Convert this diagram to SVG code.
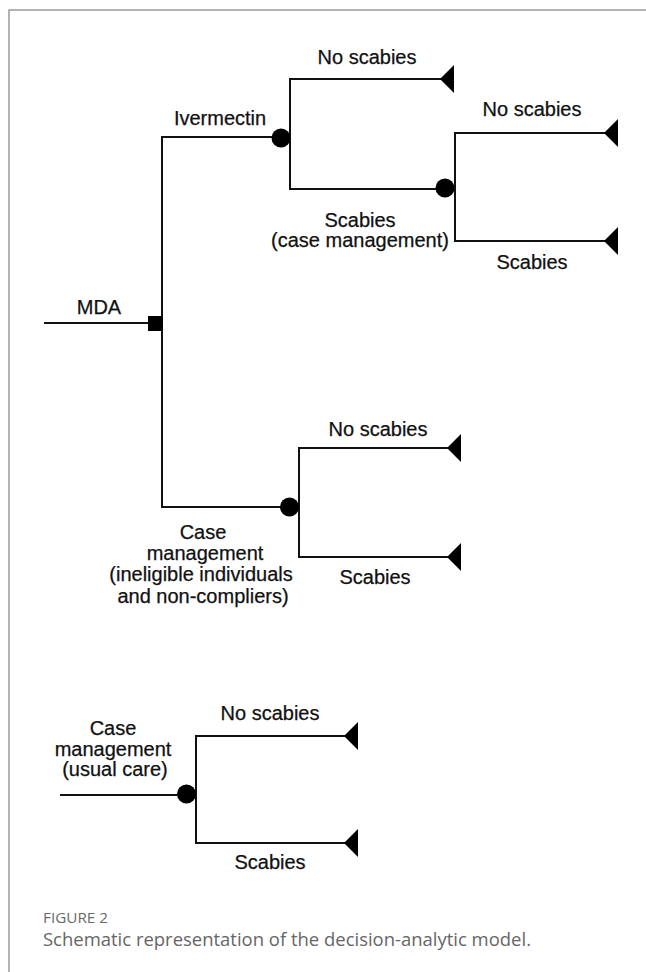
<svg xmlns="http://www.w3.org/2000/svg" width="646" height="972" viewBox="0 0 646 972">
<style>
.ln{fill:none;stroke:#111;stroke-width:2}
.lbl{font-family:"Liberation Sans",Arial,sans-serif;font-size:20px;fill:#111;text-anchor:middle;stroke:#111;stroke-width:0.25}
.chance{fill:#000}
.term{fill:#000}
.cap1{font-family:"Open Sans","Noto Sans",sans-serif;font-size:15px;fill:#6a6a6a}
.cap2{font-family:"Open Sans","Noto Sans",sans-serif;font-size:18px;fill:#666}
</style>
<defs>
<path id="tri" d="M0,0 L14,-14 L14,14 Z"/>
</defs>
<rect width="646" height="972" fill="#fff"/>
<path d="M9,972 V10 H646" fill="none" stroke="#9a9a9a" stroke-width="1.5"/>
<g id="connectors">
<path class="ln" d="M44,323 H155"/>
<path class="ln" d="M162,323 V137 H281"/>
<path class="ln" d="M162,323 V507 H289"/>
<path class="ln" d="M290,138 V79 H442"/>
<path class="ln" d="M290,138 V189 H445"/>
<path class="ln" d="M455,188 V133 H606"/>
<path class="ln" d="M455,188 V241 H606"/>
<path class="ln" d="M299,507 V448 H449"/>
<path class="ln" d="M299,507 V557 H449"/>
<path class="ln" d="M60,795 H186"/>
<path class="ln" d="M196,795 V736 H346"/>
<path class="ln" d="M196,795 V843 H346"/>
</g>
<g id="mda-decision">
<rect x="148" y="316" width="15" height="15" fill="#000"/>
<text class="lbl" x="99" y="314">MDA</text>
</g>
<g id="ivermectin-chance">
<circle class="chance" cx="281" cy="138" r="9.5"/>
<text class="lbl" x="220" y="125">Ivermectin</text>
</g>
<g id="ivermectin-no-scabies">
<use href="#tri" x="440" y="79"/>
<text class="lbl" x="367" y="64">No scabies</text>
</g>
<g id="scabies-case-mgmt-chance">
<circle class="chance" cx="445" cy="188" r="9.5"/>
<text class="lbl" x="360" y="227">Scabies</text>
<text class="lbl" x="360" y="247">(case management)</text>
</g>
<g id="cm-no-scabies">
<use href="#tri" x="604" y="133"/>
<text class="lbl" x="532" y="116">No scabies</text>
</g>
<g id="cm-scabies">
<use href="#tri" x="604" y="241"/>
<text class="lbl" x="532" y="269">Scabies</text>
</g>
<g id="ineligible-chance">
<circle class="chance" cx="289.5" cy="507" r="9.5"/>
<text class="lbl" x="203" y="539">Case</text>
<text class="lbl" x="205" y="560">management</text>
<text class="lbl" x="201" y="581">(ineligible individuals</text>
<text class="lbl" x="203" y="603">and non-compliers)</text>
</g>
<g id="ineligible-no-scabies">
<use href="#tri" x="447" y="448"/>
<text class="lbl" x="378" y="436">No scabies</text>
</g>
<g id="ineligible-scabies">
<use href="#tri" x="447" y="557"/>
<text class="lbl" x="375" y="584">Scabies</text>
</g>
<g id="usual-care-chance">
<circle class="chance" cx="186.5" cy="794" r="9.5"/>
<text class="lbl" x="113" y="735">Case</text>
<text class="lbl" x="113" y="756">management</text>
<text class="lbl" x="115" y="776">(usual care)</text>
</g>
<g id="usual-no-scabies">
<use href="#tri" x="344" y="736"/>
<text class="lbl" x="270" y="720">No scabies</text>
</g>
<g id="usual-scabies">
<use href="#tri" x="344" y="843"/>
<text class="lbl" x="270" y="869">Scabies</text>
</g>
<g id="caption">
<text class="cap1" x="43" y="923" textLength="65" lengthAdjust="spacingAndGlyphs">FIGURE 2</text>
<text class="cap2" x="43" y="946" textLength="488" lengthAdjust="spacingAndGlyphs">Schematic representation of the decision-analytic model.</text>
</g>
</svg>
